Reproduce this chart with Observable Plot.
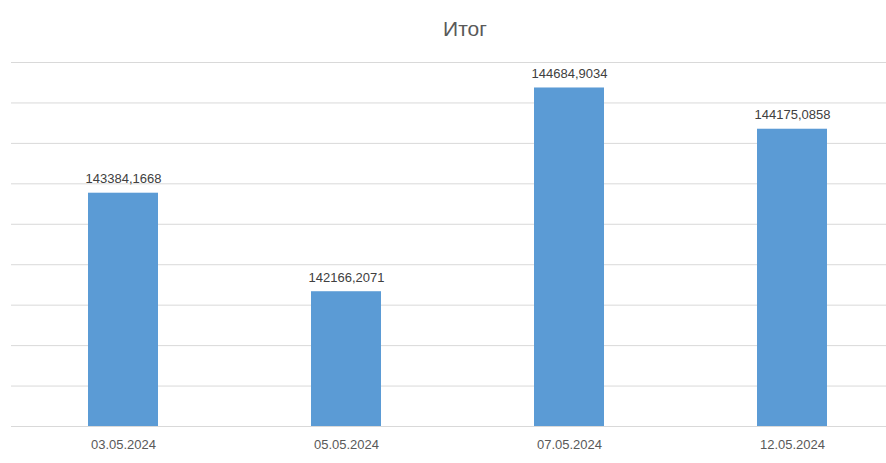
<!DOCTYPE html>
<html>
<head>
<meta charset="utf-8">
<script src="https://cdn.jsdelivr.net/npm/d3@7"></script>
<script src="https://cdn.jsdelivr.net/npm/@observablehq/plot@0.6"></script>
<style>
  html, body { margin: 0; padding: 0; background: #fff; }
  #wrap { position: relative; width: 886px; height: 463px; overflow: hidden; font-family: "Liberation Sans", Arial, sans-serif; }
  #title { position: absolute; top: 0; left: 0; width: 930px; height: 50px; line-height: 58px; text-align: center; font-size: 21px; color: #595959; }
  #chart { position: absolute; top: 50px; left: 0; }
</style>
</head>
<body>
<div id="wrap">
  <div id="title">Итог</div>
  <div id="chart"></div>
</div>
<script>
const dates = ["03.05.2024", "05.05.2024", "07.05.2024", "12.05.2024"];
const values = [143384.1668, 142166.2071, 144684.9034, 144175.0858];
const gridTicks = [140500, 141000, 141500, 142000, 142500, 143000, 143500, 144000, 144500, 145000];
const yMin = 140500, yMax = 145000;

const data = dates.map((d, i) => ({date: d, value: values[i]}));
const fmt = v => v.toFixed(4).replace(".", ",");

const chart = Plot.plot({
  width: 886,
  height: 413,
  marginTop: 12,
  marginBottom: 37,
  marginLeft: 11,
  marginRight: 0,
  style: {fontFamily: "Liberation Sans, Arial, sans-serif", fontSize: "13px", background: "#fff"},
  x: {domain: dates, range: [11.5, 903.5], paddingInner: 0.686, paddingOuter: 0.343, label: null},
  y: {domain: [yMin, yMax], label: null, axis: null},
  marks: [
    Plot.ruleY(gridTicks, {stroke: "#d9d9d9", strokeWidth: 1}),
    Plot.rectY(data, {x: "date", y1: yMin, y2: "value", fill: "#5B9BD5"}),
    Plot.text(data, {x: "date", y: "value", text: d => fmt(d.value), lineAnchor: "bottom", dy: -10, fill: "#404040", fontSize: 13}),
    Plot.axisX({tickSize: 0, tickPadding: 13, fontSize: 13, color: "#595959", label: null})
  ]
});
document.getElementById("chart").appendChild(chart);
</script>
</body>
</html>
